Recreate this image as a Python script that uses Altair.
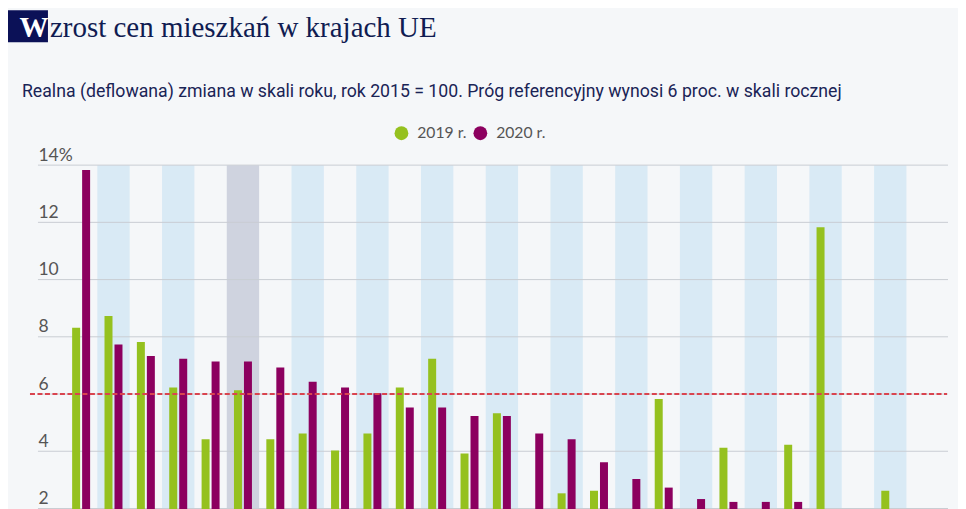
import altair as alt
import pandas as pd

countries = ["Luksemburg", "Słowacja", "Holandia", "Litwa", "Austria", "Polska",
             "Dania", "Niemcy", "Chorwacja", "Portugalia", "Łotwa", "Czechy",
             "Bułgaria", "Słowenia", "Belgia", "Szwecja", "Estonia", "Francja",
             "Irlandia", "Finlandia", "Grecja", "Włochy", "Hiszpania", "Węgry",
             "Malta", "Cypr", "Rumunia"]
v2019 = [8.32, 8.73, 7.82, 6.23, 4.42, 6.13, 4.42, 4.62, 4.03, 4.62, 6.23, 7.23,
         3.92, 5.33, 1.5, 2.53, 2.62, 1.2, 5.83, 1.6, 4.12, 0.9, 4.23, 11.83,
         1.4, 2.62, 0.8]
v2020 = [13.83, 7.73, 7.33, 7.23, 7.14, 7.14, 6.93, 6.43, 6.23, 6.03, 5.53, 5.53,
         5.23, 5.23, 4.62, 4.42, 3.62, 3.03, 2.73, 2.33, 2.23, 2.23, 2.23, 1.9,
         1.5, 1.1, 0.6]
years = ["2019 r.", "2020 r."]
highlight = "Polska"
threshold = 6
y_ticks = [0, 2, 4, 6, 8, 10, 12, 14]

title_first = "W"
title_rest = "zrost cen mieszkań w krajach UE"
subtitle = ("Realna (deflowana) zmiana w skali roku, rok 2015 = 100. "
            "Próg referencyjny wynosi 6 proc. w skali rocznej")

W, H = 911, 401

long_rows = []
for c, a, b in zip(countries, v2019, v2020):
    long_rows.append({"kraj": c, "rok": years[0], "wartosc": a})
    long_rows.append({"kraj": c, "rok": years[1], "wartosc": b})
bars_df = pd.DataFrame(long_rows)

band_df = pd.DataFrame({
    "kraj": countries,
    "pas": ["wyr" if c == highlight else ("alt" if i % 2 == 1 else "brak")
            for i, c in enumerate(countries)],
})
grid_df = pd.DataFrame({"y": y_ticks})
thr_df = pd.DataFrame({"y": [threshold]})

x_scale = alt.Scale(domain=countries, paddingInner=0, paddingOuter=0.5586, align=0.746)
y_scale = alt.Scale(domain=[0, 14], nice=False)

bands = alt.Chart(band_df).mark_rect().encode(
    x=alt.X("kraj:N", scale=x_scale, sort=countries,
            axis=alt.Axis(title=None, labels=False, domain=False, ticks=False)),
    y=alt.value(0),
    y2=alt.value(H),
    color=alt.Color("pas:N", scale=alt.Scale(domain=["wyr", "alt", "brak"],
                                             range=["#cfd3df", "#d9eaf5", "rgba(0,0,0,0)"]),
                    legend=None),
)

grid = alt.Chart(grid_df).mark_rule(color="#c9cdd3", strokeWidth=1).encode(
    y=alt.Y("y:Q", scale=y_scale),
    x=alt.value(0),
    x2=alt.value(W),
)

bars = alt.Chart(bars_df).mark_bar(size=8).encode(
    x=alt.X("kraj:N", scale=x_scale, sort=countries),
    xOffset=alt.XOffset("rok:N", scale=alt.Scale(domain=years, paddingInner=0.2, paddingOuter=0.72)),
    y=alt.Y("wartosc:Q", scale=y_scale,
            axis=alt.Axis(title=None, values=y_ticks, domain=False, ticks=False, grid=False,
                          labelAlign="left", labelBaseline="alphabetic", labelPadding=0,
                          labelOffset=-5, labelFont="Lato", labelFontSize=17.5,
                          labelColor="#555555", labelOverlap=False,
                          labelExpr="datum.value == 14 ? '14%' : datum.label")),
    color=alt.Color("rok:N", scale=alt.Scale(domain=years, range=["#95c11f", "#8c005f"]),
                    legend=alt.Legend(title=None, orient="none", legendX=356, legendY=-40,
                                      direction="horizontal", symbolType="circle",
                                      symbolSize=190, symbolStrokeWidth=0,
                                      labelFont="Lato", labelFontSize=15.7,
                                      labelColor="#555555", labelOffset=8,
                                      columnPadding=6)),
)

thr = alt.Chart(thr_df).mark_rule(color="#d9444f", strokeWidth=2, strokeDash=[5, 2.5]).encode(
    y=alt.Y("y:Q", scale=y_scale),
    x=alt.value(-8),
    x2=alt.value(W - 1),
)

deco_df = pd.DataFrame({"a": [0]})
box = alt.Chart(deco_df).mark_rect(color="#0b1157").encode(
    x=alt.value(-30), x2=alt.value(10), y=alt.value(-155), y2=alt.value(-123)
)
w_text = alt.Chart(deco_df).mark_text(
    text=title_first, font="Liberation Serif", fontSize=29, fontWeight="bold",
    color="#ffffff", align="center", baseline="alphabetic"
).encode(x=alt.value(-4), y=alt.value(-128))
t_text = alt.Chart(deco_df).mark_text(
    text=title_rest, font="Liberation Serif", fontSize=29,
    color="#101c52", align="left", baseline="alphabetic"
).encode(x=alt.value(12), y=alt.value(-128))
s_text = alt.Chart(deco_df).mark_text(
    text=subtitle, font="Roboto", fontSize=17.7,
    color="#1a2456", align="left", baseline="alphabetic"
).encode(x=alt.value(-16), y=alt.value(-68))

chart = alt.layer(bands, grid, bars, thr, box, w_text, t_text, s_text).properties(
    width=W, height=H,
    padding={"left": 30, "top": 157, "right": 10, "bottom": 10},
    autosize=alt.AutoSizeParams(type="none"),
    background="#f5f7f9",
).configure_view(stroke=None).resolve_scale(color="independent")

chart.save("out.html", embed_options={"renderer": "svg", "actions": False})
